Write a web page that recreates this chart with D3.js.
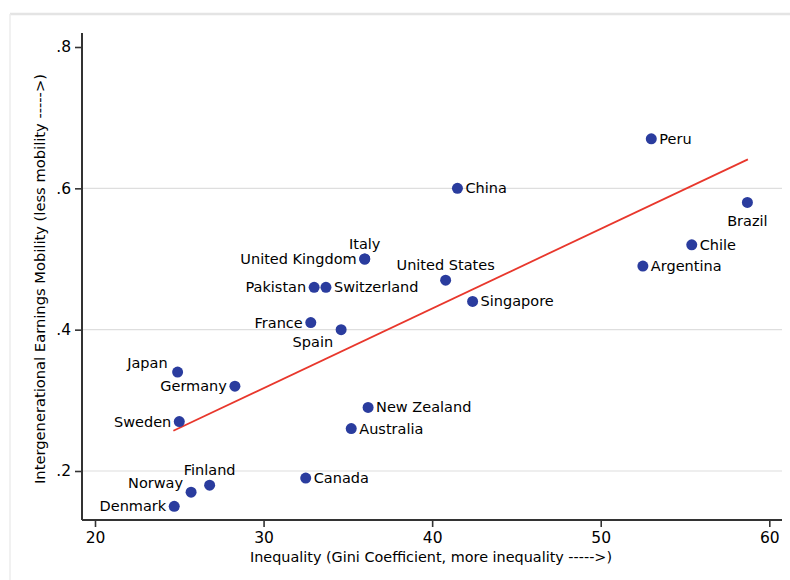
<!DOCTYPE html>
<html>
<head>
<meta charset="utf-8">
<script src="https://cdn.jsdelivr.net/npm/d3@7"></script>
<style>
  body { margin: 0; background: #fff; }
  text { font-family: "DejaVu Sans", sans-serif; fill: #000; }
</style>
</head>
<body>
<svg id="chart" width="790" height="580"></svg>
<script>
// data
let countries = ["Peru", "China", "Brazil", "Chile", "Argentina", "United States", "Singapore", "Italy",
  "United Kingdom", "Pakistan", "Switzerland", "France", "Spain", "Japan", "Germany", "Sweden",
  "New Zealand", "Australia", "Canada", "Finland", "Norway", "Denmark"]
let gini = [53.0, 41.5, 58.7, 55.4, 52.5, 40.8, 42.4, 36.0,
  36.0, 33.0, 33.7, 32.8, 34.6, 24.9, 28.3, 25.0,
  36.2, 35.2, 32.5, 26.8, 25.7, 24.7]
let mobility = [0.67, 0.60, 0.58, 0.52, 0.49, 0.47, 0.44, 0.50,
  0.50, 0.46, 0.46, 0.41, 0.40, 0.34, 0.32, 0.27,
  0.29, 0.26, 0.19, 0.18, 0.17, 0.15]
// label placement (clock position, like the original)
let labelPos = ["r", "r", "b", "r", "r", "t", "r", "t",
  "l", "l", "r", "l", "bl", "tl", "l", "l",
  "r", "r", "r", "t", "tl2", "l"]
let xTicks = [20, 30, 40, 50, 60]
let yTicks = [0.2, 0.4, 0.6, 0.8]
let fitLine = [[24.65, 0.257], [58.73, 0.641]]

let svg = d3.select("#chart")

// outer frame
svg.append("line").attr("x1", 10).attr("x2", 790).attr("y1", 14).attr("y2", 14)
  .style("stroke", "#e4e4e4").style("stroke-width", 2.5)
svg.append("line").attr("x1", 10).attr("x2", 10).attr("y1", 14).attr("y2", 580)
  .style("stroke", "#ececec").style("stroke-width", 1.5)

let plotVars = ({ left: 82, right: 782, top: 33, bottom: 520 })

let xScale = d3.scaleLinear().domain([20, 60]).range([95, 769.3])
let yScale = d3.scaleLinear().domain([0.2, 0.8]).range([471, 47])

// gridlines
svg.append("g")
  .selectAll("line")
  .data(yTicks.filter(d => d < 0.8))
  .join("line")
  .attr("x1", plotVars.left).attr("x2", plotVars.right)
  .attr("y1", d => yScale(d)).attr("y2", d => yScale(d))
  .style("stroke", "#dedede").style("stroke-width", 1.2)

// axes
let xAxis = d3.axisBottom(xScale).tickValues(xTicks).tickSize(7).tickPadding(5)
let yAxis = d3.axisLeft(yScale).tickValues(yTicks).tickSize(7).tickPadding(4)
  .tickFormat(d => d3.format(".1f")(d).replace(/^0/, ""))

let xAxisGroup = svg.append("g").attr("transform", `translate(0,${plotVars.bottom})`).call(xAxis)
let yAxisGroup = svg.append("g").attr("transform", `translate(${plotVars.left},0)`).call(yAxis)

for (let g of [xAxisGroup, yAxisGroup]) {
  g.select(".domain").remove()
  g.selectAll(".tick line").style("stroke", "#333").style("stroke-width", 1.6)
  g.selectAll(".tick text").style("font-size", "15.5px").style("font-family", "DejaVu Sans").style("fill", "#000")
}
svg.append("line").attr("x1", plotVars.left).attr("x2", plotVars.right)
  .attr("y1", plotVars.bottom).attr("y2", plotVars.bottom)
  .style("stroke", "#333").style("stroke-width", 2)
svg.append("line").attr("x1", plotVars.left).attr("x2", plotVars.left)
  .attr("y1", plotVars.top).attr("y2", plotVars.bottom)
  .style("stroke", "#333").style("stroke-width", 2)

// axis titles
svg.append("text")
  .attr("x", 431).attr("y", 562)
  .style("text-anchor", "middle").style("font-size", "14.4px")
  .text("Inequality (Gini Coefficient, more inequality ----->)")
svg.append("text")
  .attr("transform", `translate(45, 279) rotate(-90)`)
  .style("text-anchor", "middle").style("font-size", "14.7px")
  .text("Intergenerational Earnings Mobility (less mobility ----->)")

// fitted line
svg.append("line")
  .attr("x1", xScale(fitLine[0][0])).attr("y1", yScale(fitLine[0][1]))
  .attr("x2", xScale(fitLine[1][0])).attr("y2", yScale(fitLine[1][1]))
  .style("stroke", "#e8372c").style("stroke-width", 1.8)

let points = countries.map((c, i) => ({ name: c, x: gini[i], y: mobility[i], pos: labelPos[i] }))

// dots
svg.append("g")
  .selectAll("circle")
  .data(points)
  .join("circle")
  .attr("cx", d => xScale(d.x))
  .attr("cy", d => yScale(d.y))
  .attr("r", 5.5)
  .style("fill", "#2a3c9e")

// labels
let offsets = {
  r: { dx: 8, dy: 5, anchor: "start" },
  l: { dx: -8, dy: 5, anchor: "end" },
  t: { dx: 0, dy: -10, anchor: "middle" },
  b: { dx: 0, dy: 24, anchor: "middle" },
  bl: { dx: -8, dy: 17, anchor: "end" },
  tl: { dx: -10, dy: -4, anchor: "end" },
  tl2: { dx: -8, dy: -4, anchor: "end" }
}
svg.append("g")
  .selectAll("text")
  .data(points)
  .join("text")
  .attr("x", d => xScale(d.x) + offsets[d.pos].dx)
  .attr("y", d => yScale(d.y) + offsets[d.pos].dy)
  .style("text-anchor", d => offsets[d.pos].anchor)
  .style("font-size", "14.5px")
  .text(d => d.name)
</script>
</body>
</html>
